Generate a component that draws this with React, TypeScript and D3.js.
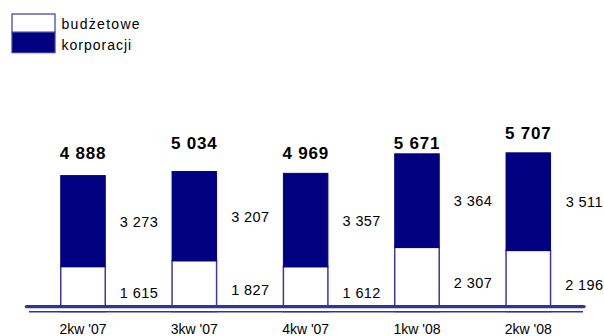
import React from "react";
import * as d3 from "d3";

const categories = ["2kw '07", "3kw '07", "4kw '07", "1kw '08", "2kw '08"];
const budzetowe = [1615, 1827, 1612, 2307, 2196];
const korporacji = [3273, 3207, 3357, 3364, 3511];
const totals = [4888, 5034, 4969, 5671, 5707];
const totalLabelRow = [0, 1, 0, 1, 2];
const legendLabels = ["budżetowe", "korporacji"];

const W = 604;
const H = 336;
const NAVY = "#000080";
const EDGE = "#3a3aa0";
const FONT = "Arial, 'Liberation Sans', sans-serif";

const fmt = (v: number) => {
  const s = String(v);
  return s.length > 3 ? s.slice(0, s.length - 3) + " " + s.slice(-3) : s;
};

export default function App() {
  const x = d3.scalePoint<string>().domain(categories).range([83, 528.3]);
  const y = d3.scaleLinear().domain([0, 7000]).range([311.5, 116.9]);
  const bw = 44.5;

  return (
    <svg width={W} height={H} style={{ position: "absolute", left: 0, top: 0, background: "#fff" }}>
      {/* legend */}
      <g>
        <rect x={12} y={14} width={43} height={18.3} fill="#fff" stroke={EDGE} strokeWidth={1.2} />
        <rect x={12} y={32.3} width={43} height={20.4} fill={NAVY} stroke={EDGE} strokeWidth={1.2} />
        <text x={61.5} y={29.3} fontFamily={FONT} fontSize={14} letterSpacing={1.3} fill="#000">
          {legendLabels[0]}
        </text>
        <text x={61.5} y={50.3} fontFamily={FONT} fontSize={14} letterSpacing={1} fill="#000">
          {legendLabels[1]}
        </text>
      </g>

      {categories.map((c, i) => {
        const cx = x(c) as number;
        const y0 = y(0);
        const yS = y(budzetowe[i]);
        const yT = y(budzetowe[i] + korporacji[i]);
        return (
          <g key={c}>
            <rect x={cx - bw / 2} y={yS} width={bw} height={y0 - yS} fill="#fff" stroke={EDGE} strokeWidth={1.5} />
            <rect x={cx - bw / 2} y={yT} width={bw} height={yS - yT} fill={NAVY} stroke={NAVY} strokeWidth={1} />
            <text
              x={cx}
              y={158.5 - totalLabelRow[i] * 10}
              textAnchor="middle"
              fontFamily={FONT}
              fontSize={17}
              fontWeight="bold"
              letterSpacing={0.8}
              fill="#000"
            >
              {fmt(totals[i])}
            </text>
            <text x={cx + 56} y={(yS + yT) / 2 + 5.5} textAnchor="middle" fontFamily={FONT} fontSize={14.5} letterSpacing={0.4} fill="#000">
              {fmt(korporacji[i])}
            </text>
            <text x={cx + 56} y={(y0 + yS) / 2 + 9} textAnchor="middle" fontFamily={FONT} fontSize={14.5} letterSpacing={0.4} fill="#000">
              {fmt(budzetowe[i])}
            </text>
            <text x={cx} y={334} textAnchor="middle" fontFamily={FONT} fontSize={14} fill="#000">
              {c}
            </text>
          </g>
        );
      })}

      {/* axis lines */}
      <rect x={20} y={306} width={570} height={5} fill="#fff" />
      <line x1={26.5} x2={584} y1={306.6} y2={306.6} stroke="#33339c" strokeWidth={3.4} strokeLinecap="round" />
      <line x1={29} x2={583} y1={311.7} y2={311.7} stroke="#33339c" strokeWidth={1.5} />
    </svg>
  );
}
